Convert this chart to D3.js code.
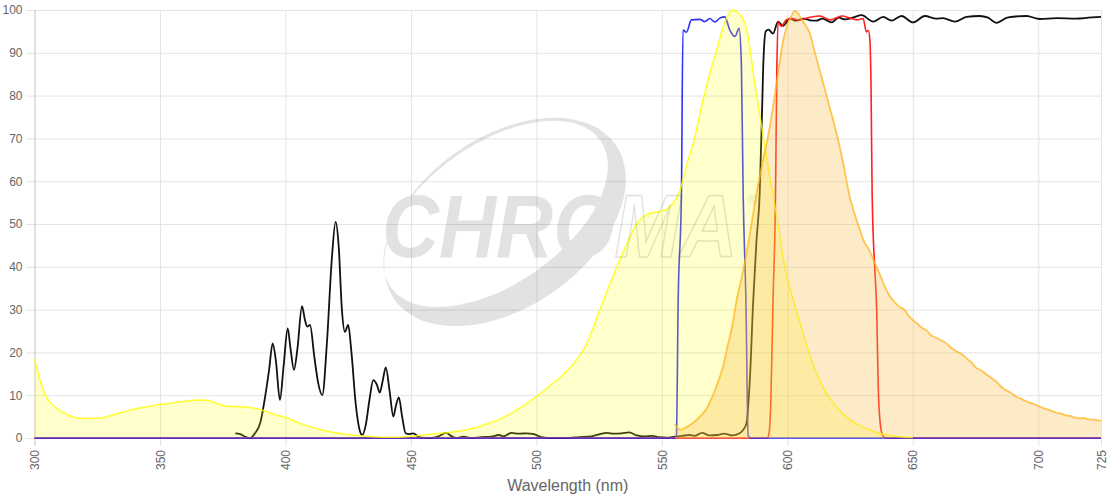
<!DOCTYPE html>
<html>
<head>
<meta charset="utf-8">
<script src="https://cdn.jsdelivr.net/npm/d3@7"></script>
<style>
  body { margin: 0; background: #fff; }
  svg { display: block; font-family: "Liberation Sans", Arial, sans-serif; }
</style>
</head>
<body>
<svg id="chart" width="1120" height="500"></svg>
<script>
// Axis ticks
const xTicks = [300, 350, 400, 450, 500, 550, 600, 650, 700, 725];
const yTicks = [0, 10, 20, 30, 40, 50, 60, 70, 80, 90, 100];

// Excitation spectrum (yellow, filled) [nm, %]
const excitation = [
  [300, 18.5], [302, 14], [304, 10.5], [306, 8.5], [308, 7.3], [310, 6.5], [312, 5.8], [314, 5.2],
  [316, 4.8], [318, 4.6], [322, 4.6], [326, 4.6], [330, 5.2], [335, 6], [340, 6.8], [345, 7.3],
  [350, 7.8], [355, 8.2], [360, 8.6], [365, 8.9], [369, 8.8], [373, 8], [377, 7.4], [382, 7.3],
  [387, 7.0], [391, 6.5], [395, 5.6], [400, 4.8], [405, 3.6], [410, 2.6], [415, 1.8], [420, 1.2],
  [425, 0.8], [430, 0.5], [435, 0.3], [440, 0.2], [445, 0.2], [450, 0.4], [455, 0.7], [460, 1.0],
  [465, 1.3], [470, 1.7], [475, 2.3], [480, 3.2], [485, 4.3], [490, 5.8], [495, 7.6], [500, 9.7],
  [505, 12], [510, 14.5], [515, 17.5], [520, 22], [525, 29.5], [530, 37], [535, 44], [540, 50],
  [545, 52.5], [550, 53], [554, 54.5], [557, 57.5], [560, 64], [563, 70], [566, 78], [569, 85],
  [572, 91], [575, 97], [578, 100], [581, 99], [584, 95], [587, 83], [590, 72], [593, 61],
  [596, 51], [599, 40], [602, 33], [605, 27], [608, 21], [611, 16], [615, 11], [620, 7],
  [625, 4.3], [630, 2.6], [635, 1.4], [640, 0.7], [645, 0.3], [650, 0.1]
];

// Emission spectrum (orange, filled) [nm, %]
const emission = [
  [555.2, 3.3], [556.5, 2.2], [557.5, 1.9], [560, 2.6], [563, 3.8], [566, 5.5], [568, 7],
  [570, 9.5], [572, 12.5], [574.4, 16.7], [576, 21], [578, 26], [579.8, 32.2], [582, 38],
  [584, 44], [586, 51], [587.7, 57], [590, 64], [593, 72.7], [595, 80], [597, 88], [598.4, 93],
  [600, 96.5], [601.5, 98.5], [603, 99.8], [604.5, 99], [606, 97.5], [609, 94.5], [611, 90],
  [614.3, 82.9], [617, 77], [619.6, 71.2], [622, 65], [625, 56], [627, 52], [629, 48.5],
  [630.3, 46.3], [633, 43.5], [635.5, 40], [637, 38], [639, 35.2], [641, 33], [643, 31.6],
  [644.5, 30.7], [646.8, 29.9], [648, 28.8], [650, 27.6], [652, 26.6], [654, 25.6], [655.5, 25.1],
  [657.3, 24], [659, 23.5], [661, 22.9], [663.4, 22.1], [665, 21.2], [667, 20.4], [670, 19.4],
  [672, 18.3], [673.5, 17.6], [675.4, 16.3], [677, 15.9], [679, 15.0], [680.7, 14.3], [683, 13.3],
  [684.5, 12.4], [686, 11.6], [688, 10.9], [690, 10.2], [691.3, 9.6], [693, 9.2], [695, 8.6],
  [697, 8.2], [699.3, 7.7], [701, 7.2], [703, 6.8], [705, 6.4], [707.3, 5.9], [709, 5.7],
  [711, 5.3], [713, 5.1], [714.5, 4.8], [716.5, 4.6], [718, 4.7], [720, 4.4], [722, 4.3], [725, 4.0]
];

// Excitation filter (blue) [nm, %T]
const exFilter = [
  [300, 0], [555, 0], [555.8, 0.5], [556.5, 32], [557.8, 57], [558.4, 95.3], [559.8, 94.8],
  [561.8, 97.7], [565.1, 97.8], [567.1, 97.3], [569.1, 98], [571.1, 97.2], [573.1, 98.1],
  [575.1, 98.4], [577.1, 95.3], [579.1, 93.8], [580.8, 95.7], [581.7, 87], [582.4, 57],
  [583.5, 32], [584.4, 0.5], [585.5, 0], [725, 0]
];

// Emission filter (red) [nm, %T]
const emFilter = [
  [300, 0], [592, 0], [592.7, 1], [593.4, 8], [594.3, 32], [595.3, 57], [595.8, 85],
  [596.3, 97.3], [597.5, 96.2], [599.7, 97.7], [602, 98], [604.5, 97.7], [609, 98.3],
  [613, 98.6], [617, 97.7], [621.8, 98.6], [625, 98.1], [627.7, 97.7], [630.2, 98],
  [631.5, 94.9], [632.3, 95.2], [632.9, 93], [633.4, 80], [633.8, 57], [634.8, 40],
  [635.5, 32], [636.4, 8.9], [637.5, 1.5], [638.5, 0.2], [640, 0], [725, 0]
];

// Dichroic (black) [nm, %T]
const dichroic = [
  [380, 1.1], [382, 0.9], [384, 0.3], [386, 0], [388, 1.2], [390, 3.6], [392, 10], [393.5, 16],
  [394.9, 22.1], [396.2, 18], [397.8, 8.9], [399.3, 17], [400.9, 25.6], [402, 21], [403.4, 15.9],
  [404.8, 21], [406.6, 30.8], [407.8, 27.5], [408.7, 26], [409.8, 26.4], [411.5, 19], [413, 13],
  [414.7, 10], [416.5, 22], [418.5, 42], [420, 50.5], [421.2, 45], [422.5, 30], [423.7, 24.8],
  [425, 26.4], [426.3, 20], [428, 8], [429.5, 2], [430.6, 0.7], [432, 3], [433.5, 9], [435, 13.5],
  [436.4, 12.5], [437.6, 10.6], [438.8, 13.5], [440, 16.5], [441.5, 11], [443, 5], [444, 7.5],
  [445.2, 9.5], [446.5, 5], [447.9, 1.1], [449.5, 0.9], [451, 1.1], [452.5, 0.5], [454, 0.1],
  [458, 0], [461, 0.4], [464, 1.2], [466, 0.5], [468, 0], [471, 0.3], [474, 0], [478, 0.2],
  [482, 0.3], [485, 0.7], [487, 0.4], [490, 1.2], [493, 1.0], [496, 1.1], [499, 0.9], [502, 0.2],
  [506, 0], [512, 0], [517, 0.2], [522, 0.4], [528, 1.2], [531, 1.0], [534, 1.1], [537, 1.3],
  [540, 0.6], [543, 0.4], [546, 0.5], [549, 0.2], [552, 0.1], [555, 0.3], [558, 0.5], [561, 0.7],
  [563, 0.5], [566, 1.2], [569, 0.6], [572, 0.7], [575, 1.0], [578, 0.6], [581, 1.1], [582.5, 2],
  [583.7, 3.4], [585, 12.8], [586.4, 32], [587.7, 46], [589, 57.2], [590, 78], [590.4, 86.8],
  [591.4, 95], [592.5, 95.4], [594.3, 94.5], [596.3, 97.3], [598.3, 96.3], [601, 98],
  [603.5, 97.5], [606.5, 98], [609, 97.6], [611.6, 97.5], [614, 98], [617.6, 97.1], [620.5, 98.2],
  [623, 97.8], [626.5, 98.3], [629.6, 98.8], [634.2, 97.3], [638.2, 98.4], [641.5, 97.5],
  [645.5, 98.6], [650.1, 97.1], [654.8, 98.6], [659.4, 98], [662, 98.1], [666.8, 97.3],
  [671.4, 98.4], [676.6, 98.6], [680, 98.2], [683.3, 97], [688, 98.3], [695.3, 98.6],
  [700.6, 97.9], [707.3, 98.1], [715.2, 98], [720, 98.2], [725, 98.4]
];

const svg = d3.select("#chart");
const plotLeft = 34.5, plotRight = 1101, plotTop = 10, plotBottom = 438;

const x = d3.scaleLinear().domain([300, 725]).range([plotLeft, plotRight]);
const y = d3.scaleLinear().domain([0, 100]).range([plotBottom, plotTop]);

// Grid + y labels
const yAxis = svg.append("g")
  .attr("transform", `translate(${plotLeft - 8},0)`)
  .call(d3.axisLeft(y).tickValues(yTicks).tickSize(-(plotRight - plotLeft + 8)).tickPadding(4));
yAxis.select(".domain").remove();
yAxis.selectAll("line").attr("stroke", "#e4e4e4");
yAxis.selectAll("text").attr("fill", "#666").style("font-size", "12px")
  .style("font-family", "'Liberation Sans', Arial, sans-serif");

const xAxis = svg.append("g")
  .attr("transform", `translate(0,${plotBottom + 8})`)
  .call(d3.axisBottom(x).tickValues(xTicks).tickSize(-(plotBottom - plotTop + 8)));
xAxis.select(".domain").remove();
xAxis.selectAll("line").attr("stroke", d => d === 300 ? "#c4c4c4" : "#e4e4e4");
xAxis.selectAll("text")
  .attr("transform", "rotate(-90)")
  .attr("x", -4).attr("y", 0).attr("dy", "0.35em")
  .style("text-anchor", "end")
  .attr("fill", "#666").style("font-size", "12px")
  .style("font-family", "'Liberation Sans', Arial, sans-serif");

svg.append("text")
  .attr("x", (plotLeft + plotRight) / 2).attr("y", 491)
  .attr("text-anchor", "middle")
  .attr("fill", "#666").style("font-size", "16px")
  .text("Wavelength (nm)");

// series
const line = d3.line().x(d => x(d[0])).y(d => y(d[1])).curve(d3.curveMonotoneX);
const area = d3.area().x(d => x(d[0])).y0(y(0)).y1(d => y(d[1])).curve(d3.curveMonotoneX);

svg.append("path").datum(dichroic).attr("d", line)
  .attr("fill", "none").attr("stroke", "#111").attr("stroke-width", 1.8);
svg.append("path").datum(emFilter).attr("d", line)
  .attr("fill", "none").attr("stroke", "rgba(255,20,20,0.95)").attr("stroke-width", 1.6);
svg.append("path").datum(exFilter).attr("d", line)
  .attr("fill", "none").attr("stroke", "rgba(25,25,255,0.9)").attr("stroke-width", 1.6);

svg.append("path").datum(excitation).attr("d", area)
  .attr("fill", "rgba(255,255,0,0.2)");
svg.append("path").datum(excitation).attr("d", line)
  .attr("fill", "none").attr("stroke", "rgba(255,255,0,0.8)").attr("stroke-width", 1.5);

svg.append("path").datum(emission).attr("d", area)
  .attr("fill", "rgba(250,190,70,0.3)");
svg.append("path").datum(emission).attr("d", line)
  .attr("fill", "none").attr("stroke", "rgba(255,180,30,0.75)").attr("stroke-width", 1.8);

// CHROMA watermark: "CHRO" solid, "MA" outlined (one text, split by gradients)
const defs = svg.append("defs");
const split = (id, leftOpacity, rightOpacity) => {
  const g = defs.append("linearGradient").attr("id", id)
    .attr("gradientUnits", "userSpaceOnUse")
    .attr("x1", 0).attr("x2", 355).attr("y1", 0).attr("y2", 0);
  g.append("stop").attr("offset", 0.655).attr("stop-color", "#000").attr("stop-opacity", leftOpacity);
  g.append("stop").attr("offset", 0.655).attr("stop-color", "#000").attr("stop-opacity", rightOpacity);
};
split("logoFill", 1, 0);
split("logoStroke", 0, 1);

const wm = svg.append("g").attr("opacity", 0.11);
const ring = (cx, cy, rx, ry) =>
  `M${cx - rx},${cy} a${rx},${ry} 0 1,0 ${2 * rx},0 a${rx},${ry} 0 1,0 ${-2 * rx},0 Z`;
wm.append("path")
  .attr("transform", "translate(505,222) rotate(-35)")
  .attr("d", ring(0, 0, 135, 85) + ring(-3, -12, 128, 70))
  .attr("fill-rule", "evenodd").attr("fill", "#000");
wm.append("text")
  .attr("transform", "translate(382,257) scale(1,1.13)")
  .attr("x", 0).attr("y", 0)
  .style("font-size", "79px").style("font-weight", "bold").style("font-style", "italic")
  .attr("fill", "url(#logoFill)").attr("stroke", "url(#logoStroke)").attr("stroke-width", 1.4)
  .text("CHROMA");
wm.append("text")
  .attr("x", 747).attr("y", 204)
  .style("font-size", "13px").attr("fill", "#000").text("®");
</script>
</body>
</html>
